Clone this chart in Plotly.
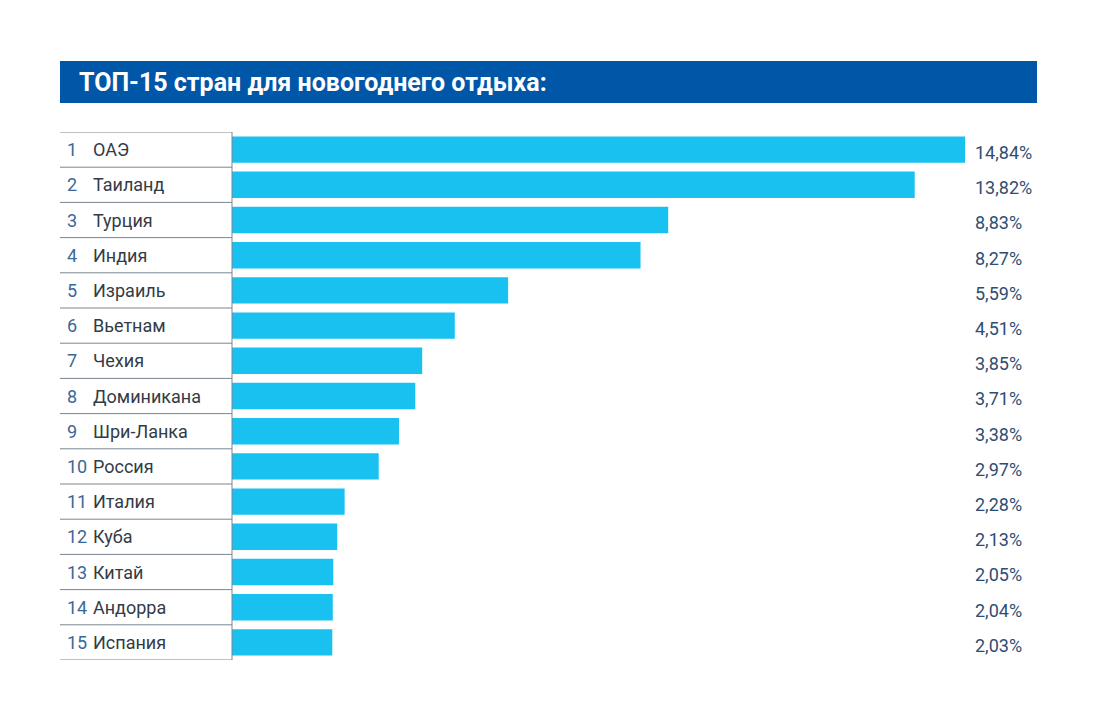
import plotly.graph_objects as go

ranks = list(range(1, 16))
countries = ["ОАЭ", "Таиланд", "Турция", "Индия", "Израиль", "Вьетнам", "Чехия",
             "Доминикана", "Шри-Ланка", "Россия", "Италия", "Куба", "Китай",
             "Андорра", "Испания"]
values = [14.84, 13.82, 8.83, 8.27, 5.59, 4.51, 3.85, 3.71, 3.38, 2.97,
          2.28, 2.13, 2.05, 2.04, 2.03]
value_labels = [f"{v:.2f}".replace(".", ",") + "%" for v in values]
title = "ТОП-15 стран для новогоднего отдыха:"

W, H = 1100, 720
OFF = 8  # page body margin offset
px = lambda x: (x - OFF) / W
py = lambda y: 1 - (y - OFF) / H

BAR = "#19C1F1"
BLUE = "#0057A8"
LINE = "#7a8590"
NUM = "#3b6796"
NAME = "#333b45"
VAL = "#2f4d72"

fig = go.Figure()
fig.add_trace(go.Bar(
    x=values, y=countries, orientation="h",
    marker=dict(color=BAR, line=dict(width=0)),
    width=0.75, hoverinfo="skip",
))

x0, x1 = 232, 1037
scale = 49.4
fig.update_layout(
    width=W, height=H,
    margin=dict(l=0, r=0, t=0, b=0),
    paper_bgcolor="white", plot_bgcolor="white",
    showlegend=False,
    font=dict(family="Roboto", size=16),
    xaxis=dict(domain=[px(x0), px(x1)], range=[0, (x1 - x0) / scale],
               visible=False, fixedrange=True),
    yaxis=dict(domain=[py(660), py(132)], range=[14.5, -0.5],
               visible=False, fixedrange=True, type="category"),
    bargap=0.25,
)

shapes = []
# title banner
shapes.append(dict(type="rect", xref="paper", yref="paper",
                   x0=px(60), x1=px(1037), y0=py(103), y1=py(61),
                   fillcolor=BLUE, line=dict(width=0), layer="below"))
# row separator lines
for i in range(len(countries) + 1):
    shapes.append(dict(type="line", xref="paper", yref="y",
                       x0=px(60), x1=px(232), y0=i - 0.5, y1=i - 0.5,
                       line=dict(color=LINE, width=1)))
shapes.append(dict(type="line", xref="paper", yref="y",
                   x0=px(232), x1=px(232), y0=-0.5, y1=len(countries) - 0.5,
                   line=dict(color=LINE, width=1)))

annotations = [dict(text=f"<b>{title}</b>", xref="paper", yref="paper",
                    x=px(77), y=py(83), xanchor="left", yanchor="middle",
                    showarrow=False,
                    font=dict(family="Roboto", size=25, color="white"))]
for i, (r, c, vl) in enumerate(zip(ranks, countries, value_labels)):
    annotations.append(dict(text=str(r), xref="paper", yref="y", x=px(65), y=i,
                            xanchor="left", yanchor="middle", showarrow=False,
                            font=dict(size=18, color=NUM)))
    annotations.append(dict(text=c, xref="paper", yref="y", x=px(91), y=i,
                            xanchor="left", yanchor="middle", showarrow=False,
                            font=dict(size=18, color=NAME)))
    annotations.append(dict(text=vl, xref="paper", yref="y", x=px(973), y=i + 0.08,
                            xanchor="left", yanchor="middle", showarrow=False,
                            font=dict(size=18, color=VAL)))

fig.update_layout(shapes=shapes, annotations=annotations)
fig.write_html("out.html", config={"displayModeBar": False})
